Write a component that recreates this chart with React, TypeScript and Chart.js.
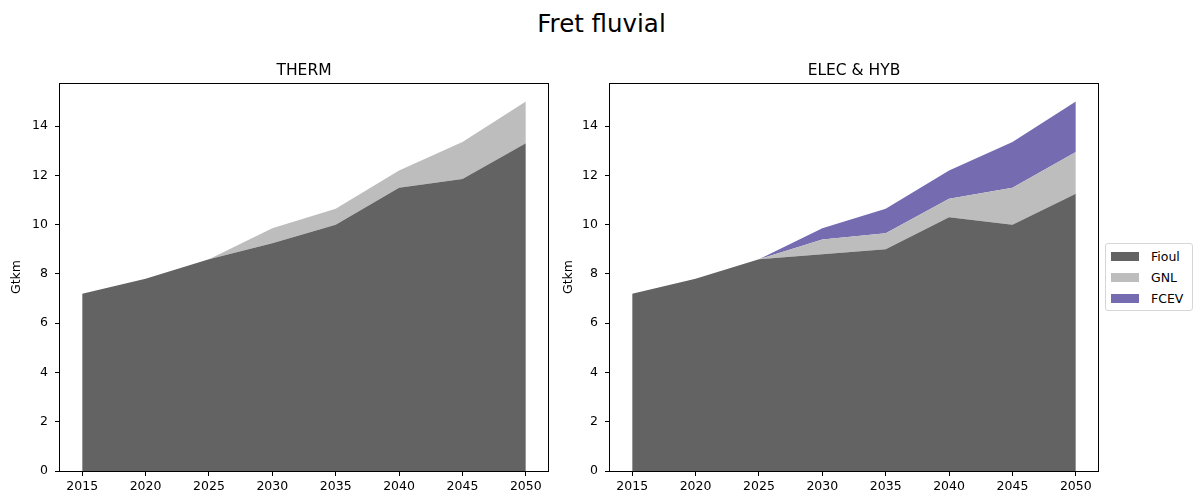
import React, { useEffect, useRef } from "react";
import { Chart, registerables } from "chart.js";

Chart.register(...registerables);

const years = [2015, 2020, 2025, 2030, 2035, 2040, 2045, 2050];
const yTicks = [0, 2, 4, 6, 8, 10, 12, 14];
const seriesNames = ["Fioul", "GNL", "FCEV"];
const seriesColors = ["#636363", "#bdbdbd", "#756bb1"];

const thermFioul = [7.2, 7.8, 8.6, 9.25, 10.0, 11.5, 11.85, 13.3];
const thermGnl = [0, 0, 0, 0.6, 0.65, 0.7, 1.5, 1.7];
const thermFcev = [0, 0, 0, 0, 0, 0, 0, 0];

const elecFioul = [7.2, 7.8, 8.6, 8.8, 9.0, 10.3, 10.0, 11.25];
const elecGnl = [0, 0, 0, 0.6, 0.65, 0.75, 1.5, 1.7];
const elecFcev = [0, 0, 0, 0.45, 1.0, 1.15, 1.85, 2.05];

const FONT = "'DejaVu Sans', sans-serif";

const framePlugin = {
  id: "frameAndTitle",
  afterDraw(chart: any) {
    const { ctx, chartArea } = chart;
    const opts = chart.options.plugins.frameAndTitle || {};
    ctx.save();
    ctx.strokeStyle = "#000";
    ctx.lineWidth = 1;
    ctx.strokeRect(
      Math.round(chartArea.left) - 0.5,
      Math.round(chartArea.top) + 0.5,
      Math.round(chartArea.right - chartArea.left) + 1,
      Math.round(chartArea.bottom - chartArea.top) - 0
    );
    if (opts.text) {
      ctx.fillStyle = "#000";
      ctx.font = `15.5px ${FONT}`;
      ctx.textAlign = "center";
      ctx.textBaseline = "alphabetic";
      ctx.fillText(opts.text, (chartArea.left + chartArea.right) / 2, 75);
    }
    ctx.restore();
  },
};

function makeConfig(title: string, fioul: number[], gnl: number[], fcev: number[], yWidth: number, padRight: number) {
  const layers = [fioul, gnl, fcev];
  return {
    type: "line" as const,
    data: {
      datasets: layers.map((vals, i) => ({
        label: seriesNames[i],
        data: years.map((y, j) => ({ x: y, y: vals[j] })),
        backgroundColor: seriesColors[i],
        borderColor: "rgba(0,0,0,0)",
        borderWidth: 0,
        pointRadius: 0,
        fill: i === 0 ? "origin" : "-1",
        tension: 0,
      })),
    },
    options: {
      animation: false,
      responsive: false,
      events: [],
      layout: { padding: { left: 0, top: 83, right: padRight, bottom: 0 } },
      plugins: {
        legend: { display: false },
        tooltip: { enabled: false },
        title: { display: false },
        frameAndTitle: { text: title },
      },
      scales: {
        x: {
          type: "linear",
          min: 2013.25,
          max: 2051.75,
          afterBuildTicks: (scale: any) => {
            scale.ticks = years.map((v) => ({ value: v }));
          },
          afterFit: (scale: any) => {
            scale.height = 24;
          },
          grid: { drawOnChartArea: false, drawTicks: true, tickLength: 5, color: "#000" },
          border: { display: false },
          ticks: {
            color: "#000",
            font: { family: FONT, size: 12.5 },
            padding: 3,
            maxRotation: 0,
            autoSkip: false,
            callback: (v: any) => String(v),
          },
        },
        y: {
          type: "linear",
          stacked: true,
          min: 0,
          max: 15.75,
          afterBuildTicks: (scale: any) => {
            scale.ticks = yTicks.map((v) => ({ value: v }));
          },
          afterFit: (scale: any) => {
            scale.width = yWidth;
          },
          grid: { drawOnChartArea: false, drawTicks: true, tickLength: 5, color: "#000" },
          border: { display: false },
          title: {
            display: true,
            text: "Gtkm",
            color: "#000",
            font: { family: FONT, size: 12.5 },
            padding: { top: 9, bottom: 0 },
          },
          ticks: {
            color: "#000",
            font: { family: FONT, size: 12.5 },
            padding: 7,
            callback: (v: any) => String(v),
          },
        },
      },
    },
    plugins: [framePlugin],
  };
}

function Panel(props: { left: number; width: number; config: any }) {
  const ref = useRef<HTMLCanvasElement>(null);
  useEffect(() => {
    const chart = new Chart(ref.current as HTMLCanvasElement, props.config);
    return () => chart.destroy();
  }, []);
  return (
    <canvas
      ref={ref}
      width={props.width}
      height={495}
      style={{ position: "absolute", left: props.left, top: 0, width: props.width, height: 495 }}
    />
  );
}

export default function App() {
  const leftCfg = makeConfig("THERM", thermFioul, thermGnl, thermFcev, 60, 4);
  const rightCfg = makeConfig("ELEC & HYB", elecFioul, elecGnl, elecFcev, 58, 95);
  return (
    <div
      style={{
        position: "absolute",
        left: 0,
        top: 0,
        width: 1193,
        height: 495,
        overflow: "hidden",
        background: "#fff",
        fontFamily: FONT,
      }}
    >
      <div
        style={{
          position: "absolute",
          left: 0,
          width: 1203,
          top: 9,
          textAlign: "center",
          fontSize: 24.5,
          lineHeight: "29px",
          color: "#000",
        }}
      >
        Fret fluvial
      </div>
      <Panel left={0} width={552} config={leftCfg} />
      <Panel left={552} width={641} config={rightCfg} />
      <div
        style={{
          position: "absolute",
          left: 1105,
          top: 243,
          width: 86,
          height: 66,
          border: "1px solid #d6d6d6",
          borderRadius: 3,
          background: "#fff",
        }}
      >
        {seriesNames.map((name, i) => (
          <div
            key={name}
            style={{ position: "absolute", left: 5, top: 4 + i * 21, height: 17, display: "flex", alignItems: "center" }}
          >
            <div style={{ width: 28, height: 9, background: seriesColors[i] }} />
            <div style={{ marginLeft: 12, fontSize: 12.5, color: "#000", whiteSpace: "nowrap" }}>{name}</div>
          </div>
        ))}
      </div>
    </div>
  );
}
